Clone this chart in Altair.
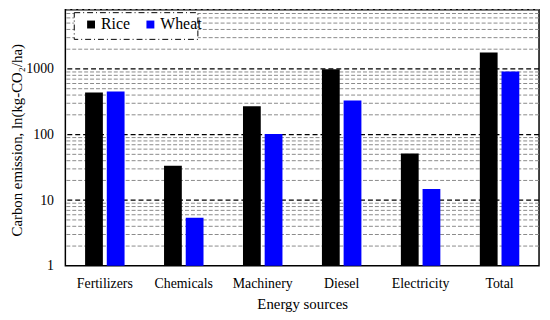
import altair as alt
import pandas as pd

sources = ["Fertilizers", "Chemicals", "Machinery", "Diesel", "Electricity", "Total"]
crops = ["Rice", "Wheat"]
rice = [437, 33.6, 271, 993, 51.6, 1778]
wheat = [452, 5.4, 102, 332, 14.8, 915]
y_labels = [1, 10, 100, 1000]
major_grid = [10, 100, 1000]
minor_grid = [2, 3, 4, 5, 6, 7, 8, 9,
              20, 30, 40, 50, 60, 70, 80, 90,
              200, 300, 400, 500, 600, 700, 800, 900,
              2000, 3000, 4000, 5000, 6000, 7000, 8000]

rows = []
for s, r, w in zip(sources, rice, wheat):
    rows.append({"source": s, "crop": "Rice", "value": r})
    rows.append({"source": s, "crop": "Wheat", "value": w})
df = pd.DataFrame(rows)
minor_df = pd.DataFrame({"v": minor_grid})
major_df = pd.DataFrame({"v": major_grid})
box_df = pd.DataFrame({"k": [0]})

FONT = "Liberation Serif"
W, H = 479, 259
YTITLE = "Carbon emission, ln(kg-CO\u2082/ha)"

yscale = alt.Scale(type="log", domain=[1, 8000], nice=False)
yaxis = alt.Axis(values=y_labels, format="d", grid=False, ticks=False, domain=False,
                 labelFont=FONT, labelFontSize=14, labelColor="black", labelPadding=12,
                 title=YTITLE, titleFont=FONT,
                 titleFontSize=15, titleFontWeight="normal", titleColor="black",
                 titleX=-49, titleY=H / 2 + 2, titleAngle=270,
                 titleAlign="center", titleBaseline="middle")

minor = alt.Chart(minor_df).mark_rule(color="#8a8a8a", strokeDash=[4, 2], strokeWidth=1).encode(
    y=alt.Y("v:Q", scale=yscale, axis=yaxis, title=YTITLE)
)
major = alt.Chart(major_df).mark_rule(color="black", strokeDash=[5, 3], strokeWidth=1.3).encode(
    y=alt.Y("v:Q", scale=yscale, axis=yaxis, title=YTITLE)
)
box = alt.Chart(box_df).mark_rect(fill="white", stroke="black", strokeWidth=1,
                                  strokeDash=[6, 3, 1, 3]).encode(
    x=alt.value(9), x2=alt.value(134), y=alt.value(3), y2=alt.value(30)
)

bars = alt.Chart(df).mark_bar().encode(
    x=alt.X("source:N", sort=sources,
            scale=alt.Scale(paddingInner=0.5, paddingOuter=0.25),
            axis=alt.Axis(labelAngle=0, ticks=False, domain=False, labelFont=FONT,
                          labelFontSize=14, labelColor="black", labelPadding=11,
                          title="Energy sources", titleFont=FONT, titleFontSize=15,
                          titleFontWeight="normal", titleColor="black", titlePadding=6)),
    xOffset=alt.XOffset("crop:N", sort=crops, scale=alt.Scale(paddingInner=0.18)),
    y=alt.Y("value:Q", scale=yscale, axis=yaxis, title=YTITLE),
    y2=alt.datum(1),
    color=alt.Color("crop:N", sort=crops,
                    scale=alt.Scale(domain=crops, range=["#000000", "#0000ff"]),
                    legend=alt.Legend(title=None, orient="none", legendX=18, legendY=7,
                                      direction="horizontal", symbolType="square",
                                      symbolSize=64, symbolStrokeWidth=0,
                                      labelFont=FONT, labelFontSize=16, labelColor="black",
                                      labelOffset=2, columnPadding=12, padding=0)),
)

chart = alt.layer(minor, major, box, bars).properties(
    width=W, height=H,
    autosize=alt.AutoSizeParams(type="none"),
    padding={"left": 58, "top": 0, "right": 3, "bottom": 46},
    background="white",
).configure_view(stroke="black", strokeWidth=1.5).configure_legend(
    labelFont=FONT, labelFontSize=16, labelColor="black"
)

chart.save("out.html", embed_options={"renderer": "svg", "actions": False})
